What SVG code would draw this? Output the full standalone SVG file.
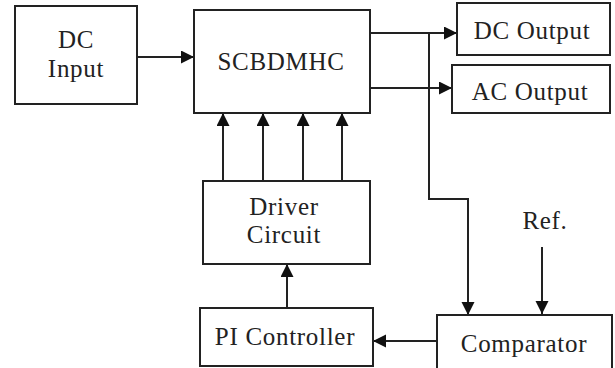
<svg xmlns="http://www.w3.org/2000/svg" width="615" height="368" viewBox="0 0 615 368" font-family="Liberation Serif, serif">
<style>
.box{fill:#fff;stroke:#222;stroke-width:2}
.ln{fill:none;stroke:#222;stroke-width:2}
.t{font-size:25px;fill:#222;text-anchor:middle;letter-spacing:0.7px}
</style>
<defs>
<marker id="ah" markerUnits="userSpaceOnUse" markerWidth="14" markerHeight="14" refX="13" refY="6.5" orient="auto">
<path d="M0,0 L13,6.5 L0,13 Z" fill="#111"/>
</marker>
</defs>
<rect width="615" height="368" fill="#fff"/>
<g id="connectors">
<line class="ln" x1="137" y1="57" x2="194" y2="57" marker-end="url(#ah)"/>
<line class="ln" x1="370" y1="33" x2="457" y2="33" marker-end="url(#ah)"/>
<line class="ln" x1="370" y1="88" x2="452" y2="88" marker-end="url(#ah)"/>
<polyline class="ln" points="429,33 429,199 468,199 468,315" marker-end="url(#ah)"/>
<line class="ln" x1="542" y1="247" x2="542" y2="314" marker-end="url(#ah)"/>
<line class="ln" x1="437" y1="341" x2="373" y2="341" marker-end="url(#ah)"/>
<line class="ln" x1="287" y1="308" x2="287" y2="264" marker-end="url(#ah)"/>
<line class="ln" x1="223" y1="181" x2="223" y2="113" marker-end="url(#ah)"/>
<line class="ln" x1="263" y1="181" x2="263" y2="113" marker-end="url(#ah)"/>
<line class="ln" x1="303" y1="181" x2="303" y2="113" marker-end="url(#ah)"/>
<line class="ln" x1="342" y1="181" x2="342" y2="113" marker-end="url(#ah)"/>
</g>
<g id="dc-input"><rect class="box" x="15" y="6" width="122" height="98"/><text class="t" x="76" y="48">DC</text><text class="t" x="76" y="77">Input</text></g>
<g id="scbdmhc"><rect class="box" x="194" y="10" width="176" height="103"/><text class="t" x="281" y="70">SCBDMHC</text></g>
<g id="dc-output"><rect class="box" x="457" y="3" width="153" height="52"/><text class="t" x="532" y="39">DC Output</text></g>
<g id="ac-output"><rect class="box" x="452" y="65" width="158" height="48"/><text class="t" x="530" y="100">AC Output</text></g>
<g id="driver"><rect class="box" x="203" y="181" width="167" height="83"/><text class="t" x="284" y="215">Driver</text><text class="t" x="284" y="243">Circuit</text></g>
<g id="pi"><rect class="box" x="200" y="308" width="173" height="58"/><text class="t" x="285" y="345">PI Controller</text></g>
<g id="comparator"><rect class="box" x="437" y="315" width="175" height="60"/><text class="t" x="524" y="352">Comparator</text></g>
<g id="ref"><text class="t" x="545" y="229">Ref.</text></g>
</svg>
